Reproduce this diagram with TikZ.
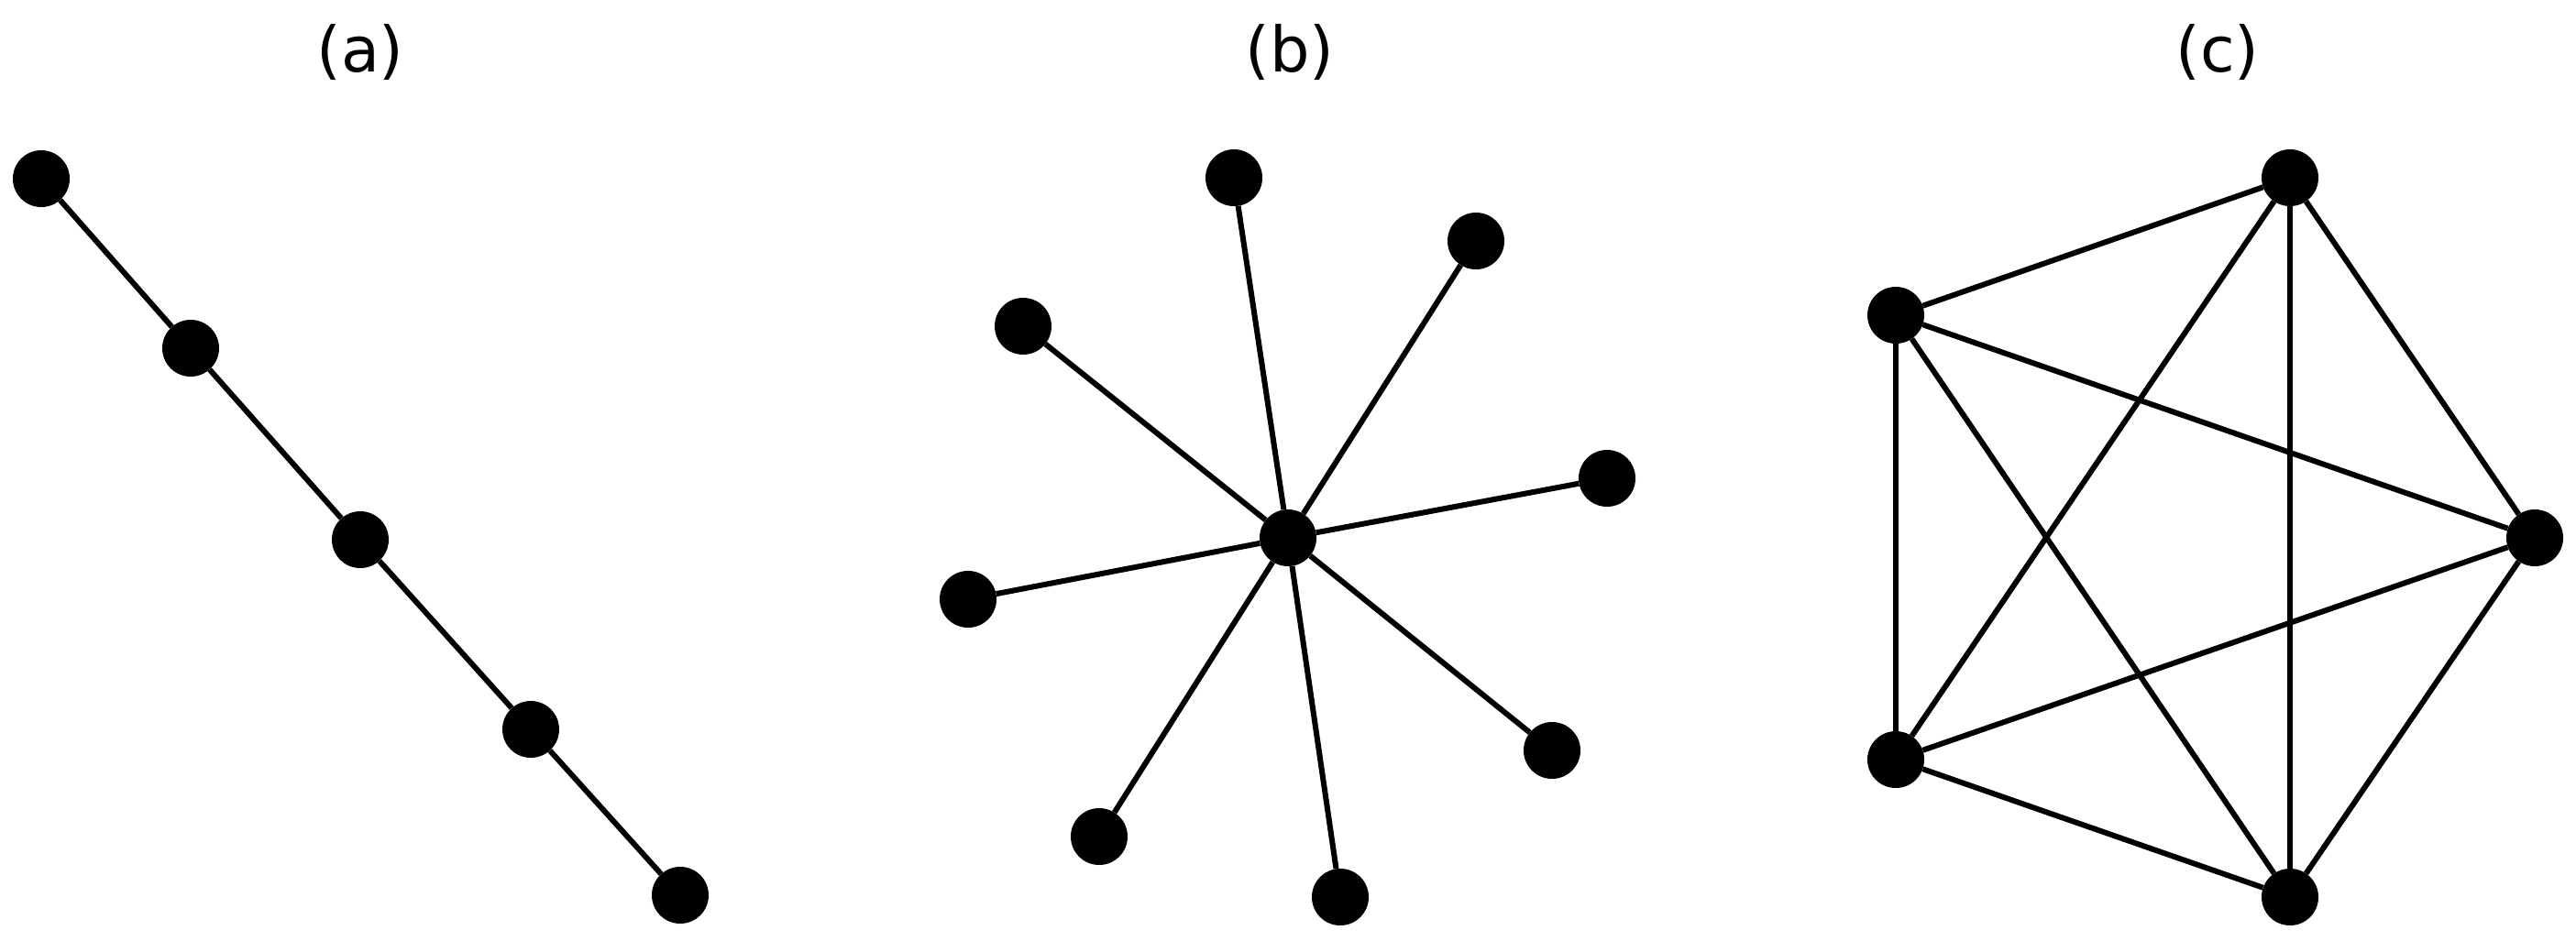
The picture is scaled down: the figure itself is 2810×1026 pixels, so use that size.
\documentclass[tikz,border=0pt]{standalone}
\usepackage{fontspec}
\setmainfont{DejaVu Sans}
\begin{document}
\begin{tikzpicture}[x=1pt,y=-1pt,
  vtx/.style={circle,fill=black,inner sep=0pt,minimum size=62pt},
  edge/.style={line width=6pt,black},
  lbl/.style={anchor=base,inner sep=0pt,font=\fontsize{68.5}{80}\selectfont}]
\useasboundingbox (0,0) rectangle (2810,1026);
% labels
\node[lbl] (la) at (393,78) {(a)};
\node[lbl] (lb) at (1407,78) {(b)};
\node[lbl] (lc) at (2419,78) {(c)};
% (a) path
\node[vtx] (a1) at (45,195) {};
\node[vtx] (a2) at (208,380) {};
\node[vtx] (a3) at (393,589) {};
\node[vtx] (a4) at (579,796) {};
\node[vtx] (a5) at (742,977) {};
% (b) star
\node[vtx] (b0) at (1405,587) {};
\node[vtx] (b1) at (1346,194) {};
\node[vtx] (b2) at (1610,263) {};
\node[vtx] (b3) at (1116,356) {};
\node[vtx] (b4) at (1753,522) {};
\node[vtx] (b5) at (1056,654) {};
\node[vtx] (b6) at (1693,819) {};
\node[vtx] (b7) at (1199,913) {};
\node[vtx] (b8) at (1462,979) {};
% (c) complete graph
\node[vtx] (c1) at (2498,194) {};
\node[vtx] (c2) at (2068,344) {};
\node[vtx] (c3) at (2765,587) {};
\node[vtx] (c4) at (2068,829) {};
\node[vtx] (c5) at (2498,979) {};
% edges
\draw[edge] (a1) -- (a2);
\draw[edge] (a2) -- (a3);
\draw[edge] (a3) -- (a4);
\draw[edge] (a4) -- (a5);
\foreach \i in {1,...,8} {\draw[edge] (b0) -- (b\i);}
\foreach \i/\j in {1/2,1/3,1/4,1/5,2/3,2/4,2/5,3/4,3/5,4/5} {\draw[edge] (c\i) -- (c\j);}
\end{tikzpicture}
\end{document}
